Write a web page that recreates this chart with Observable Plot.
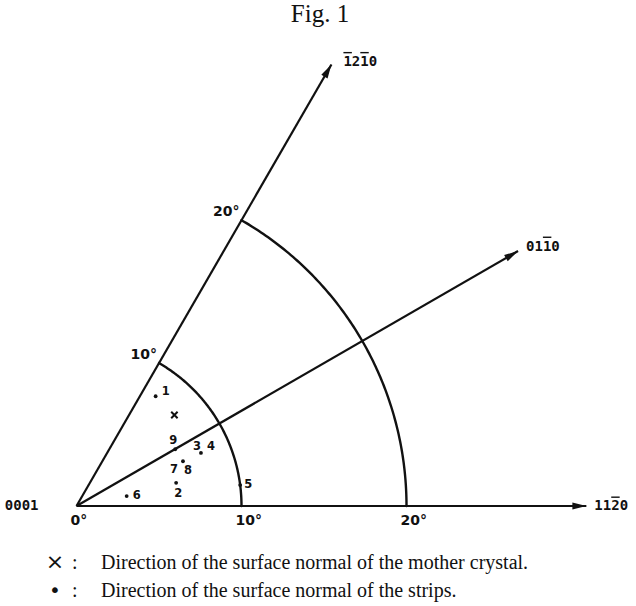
<!DOCTYPE html>
<html>
<head>
<meta charset="utf-8">
<script src="https://cdn.jsdelivr.net/npm/d3@7"></script>
<script src="https://cdn.jsdelivr.net/npm/@observablehq/plot@0.6"></script>
<style>
  body { margin: 0; background: #fff; width: 636px; }
  #title { height: 36px; line-height: 36px; font: 25px "Liberation Serif", "DejaVu Serif", serif; text-align: center; padding-left: 4px; color: #111; }
  #legend { font: 20px "Liberation Serif", "DejaVu Serif", serif; color: #111; padding-top: 12px; }
  #legend .row { position: relative; height: 28px; line-height: 28px; }
  #legend .sym { position: absolute; left: 44px; width: 22px; text-align: center; font-family: "DejaVu Sans", sans-serif; }
  #legend .sym.big { font-size: 22px; }
  #legend .colon { position: absolute; left: 72px; }
  #legend .txt { position: absolute; left: 101px; white-space: nowrap; }
</style>
</head>
<body>
<div id="title">Fig. 1</div>
<div id="chart"></div>
<div id="legend"></div>
<script>
// Crystal directions (Miller–Bravais indices): digits, which digits carry a bar, azimuth in degrees
const directionDigits = ["1120", "0110", "1210"];
const directionBarred = [[2], [2], [0, 2]];
const directionAngles = [0, 30, 60];
const axisLength = 30.9; // degrees of tilt reached by the drawn axes

// Tilt circles (degrees from the 0001 pole)
const rings = [10, 20];
const ringLabels = ["10°", "20°"];
const baseLabels = ["0°", "10°", "20°"];
const baseLabelTilts = [0, 10, 20];

// Surface normals of the strips: tilt from 0001 and azimuth from 11-20 (degrees)
const stripNumbers = ["1", "2", "3", "4", "5", "6", "7", "8", "9"];
const stripTilt    = [8.2, 6.2, 8.2, 8.2, 10.0, 3.1, 7.0, 7.0, 6.9];
const stripAzimuth = [54.2, 13.1, 23.1, 23.1, 7.3, 11.2, 22.8, 22.8, 29.9];

// Surface normal of the mother crystal
const motherTilt = [8.1];
const motherAzimuth = [42.9];

// Legend rows
const legendSymbols = ["×", "•"];
const legendTexts = [
  "Direction of the surface normal of the mother crystal.",
  "Direction of the surface normal of the strips."
];

const rad = Math.PI / 180;
const px = (t, a) => t * Math.cos(a * rad);
const py = (t, a) => t * Math.sin(a * rad);

const axes = directionAngles.map((a, i) => ({
  digits: directionDigits[i],
  barred: directionBarred[i],
  angle: a,
  x: px(axisLength, a), y: py(axisLength, a)
}));

// Sample each tilt circle between the 11-20 and -12-10 directions
const arcs = rings.flatMap(r =>
  d3.range(0, 60.001, 0.5).map(a => ({ring: r, x: px(r, a), y: py(r, a)}))
);

const strips = stripNumbers.map((n, i) => ({
  n, x: px(stripTilt[i], stripAzimuth[i]), y: py(stripTilt[i], stripAzimuth[i])
}));
const stripPoints = d3.groups(strips, d => `${d.x},${d.y}`).map(([, g]) => g[0]);
const mother = motherTilt.map((t, i) => ({x: px(t, motherAzimuth[i]), y: py(t, motherAzimuth[i])}));

// Where each strip number sits next to its point (pixels)
const labelOffset = {
  "1": [10, -5], "2": [2, 10], "3": [-4, -7], "4": [10, -7], "5": [8, -1],
  "6": [10, -1], "7": [-9, 8], "8": [5, 9], "9": [-2, -9]
};
// Where each direction name sits past its arrow tip (pixels)
const nameOffset = {0: [8, 0], 30: [8, -5], 60: [12, -3]};

// Filled arrowhead with its tip at the origin, pointing up
const arrowHead = {
  draw(context) {
    context.moveTo(0, 0);
    context.lineTo(-3.6, 14);
    context.lineTo(3.6, 14);
    context.closePath();
  }
};

const k = 16.5;            // pixels per degree of tilt
const ox = 76, oy = 469.5; // pole position within the svg
const W = 636, H = 500;

const labelFont = "DejaVu Sans";
const monoFont = "DejaVu Sans Mono";

const nameMarks = axes.map(d => {
  const [dx, dy] = nameOffset[d.angle];
  return Plot.text([d], {x: "x", y: "y", text: "digits", textAnchor: "start", dx, dy,
    fontFamily: monoFont, fontWeight: "bold", fontSize: 14, fill: "#111"});
});

const stripLabelMarks = strips.map(d => Plot.text([d], {
  x: "x", y: "y", text: "n", dx: labelOffset[d.n][0], dy: labelOffset[d.n][1],
  fontFamily: labelFont, fontWeight: "bold", fontSize: 11.5, fill: "#111"
}));

const chart = Plot.plot({
  width: W,
  height: H,
  margin: 0,
  x: {domain: [-ox / k, (W - ox) / k], axis: null},
  y: {domain: [-(H - oy) / k, oy / k], axis: null},
  marks: [
    Plot.link(axes, {x1: 0, y1: 0, x2: "x", y2: "y", stroke: "#111", strokeWidth: 2.2}),
    Plot.dot(axes, {x: "x", y: "y", symbol: arrowHead, rotate: d => 90 - d.angle, fill: "#111", stroke: "none"}),
    Plot.line(arcs, {x: "x", y: "y", z: "ring", stroke: "#111", strokeWidth: 2.4}),
    ...nameMarks,
    Plot.text(["0001"], {x: 0, y: 0, text: d => d, textAnchor: "end", dx: -38, dy: 0,
      fontFamily: monoFont, fontWeight: "bold", fontSize: 14, fill: "#111"}),
    // tilt labels along 11-20
    Plot.text(baseLabels, {x: (d, i) => baseLabelTilts[i], y: 0, text: d => d, textAnchor: "start",
      dx: -6, dy: 15, fontFamily: labelFont, fontWeight: "bold", fontSize: 14, fill: "#111"}),
    // tilt labels along -12-10
    Plot.text(ringLabels, {x: (d, i) => px(rings[i], 60), y: (d, i) => py(rings[i], 60), text: d => d,
      textAnchor: "end", dx: -2, dy: -9, fontFamily: labelFont, fontWeight: "bold", fontSize: 14, fill: "#111"}),
    // strips
    Plot.dot(stripPoints, {x: "x", y: "y", r: 1.9, fill: "#111"}),
    ...stripLabelMarks,
    // mother crystal
    Plot.dot(mother, {x: "x", y: "y", symbol: "times", r: 3, stroke: "#111", strokeWidth: 2})
  ]
});

// Put the bars of the negative indices over their digits
const svgNS = "http://www.w3.org/2000/svg";
chart.querySelectorAll("text").forEach(t => {
  const i = directionDigits.indexOf(t.textContent);
  if (i < 0 || t.childElementCount) return;
  t.textContent = "";
  [...directionDigits[i]].forEach((c, j) => {
    const span = document.createElementNS(svgNS, "tspan");
    span.textContent = c;
    if (directionBarred[i].includes(j)) span.setAttribute("text-decoration", "overline");
    t.append(span);
  });
});
document.getElementById("chart").append(chart);

const legend = document.getElementById("legend");
legendSymbols.forEach((s, i) => {
  const row = document.createElement("div");
  row.className = "row";
  row.innerHTML = `<span class="sym${i === 0 ? " big" : ""}">${s}</span><span class="colon">:</span><span class="txt">${legendTexts[i]}</span>`;
  legend.append(row);
});
</script>
</body>
</html>
